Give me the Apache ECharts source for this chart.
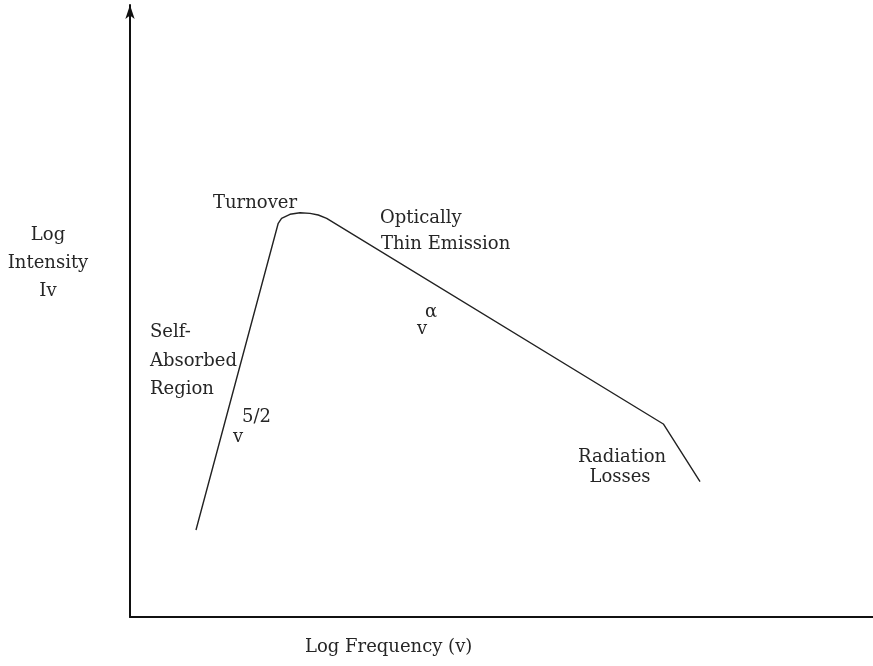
<!DOCTYPE html>
<html>
<head>
<meta charset="utf-8">
<script src="https://cdn.jsdelivr.net/npm/echarts@6/dist/echarts.min.js"></script>
<style>html,body{margin:0;padding:0;background:#fff;}#c{width:873px;height:666px;}</style>
</head>
<body>
<div id="c"></div>
<script>
// Spectrum shape (log frequency, log intensity), arbitrary units 0-100
const logFrequency = [8.88, 19.95, 20.40, 21.53, 22.88, 24.23, 25.34, 26.47, 71.78, 76.72];
const logIntensity = [14.22, 64.33, 65.15, 65.80, 66.06, 65.96, 65.69, 65.15, 31.54, 22.11];

const xAxisTitle = 'Log Frequency (v)';
const yAxisTitleLines = ['Log', 'Intensity', 'Iv'];
const annotations = [
  { text: 'Turnover', x: 213, y: 203, align: 'left' },
  { text: 'Optically', x: 380, y: 218, align: 'left' },
  { text: 'Thin Emission', x: 381, y: 244, align: 'left' },
  { text: 'Self-', x: 150, y: 332, align: 'left' },
  { text: 'Absorbed', x: 150, y: 361, align: 'left' },
  { text: 'Region', x: 150, y: 389, align: 'left' },
  { text: '5/2', x: 242, y: 417, align: 'left' },
  { text: 'v', x: 233, y: 437, align: 'left' },
  { text: '\u03b1', x: 425, y: 312, align: 'left' },
  { text: 'v', x: 417, y: 329, align: 'left' },
  { text: 'Radiation', x: 622, y: 457, align: 'center' },
  { text: 'Losses', x: 620, y: 477, align: 'center' }
];

const FONT = '"DejaVu Serif", "Liberation Serif", serif';
const TXT = '#262626';

const chart = echarts.init(document.getElementById('c'), null, { renderer: 'canvas' });

const graphics = [];
annotations.forEach(a => graphics.push({
  type: 'text', x: a.x, y: a.y,
  style: { text: a.text, font: '18px ' + FONT, fill: TXT, textAlign: a.align, textVerticalAlign: 'middle' }
}));
const yTitleY = [235, 263, 291];
yAxisTitleLines.forEach((t, i) => graphics.push({
  type: 'text', x: 48, y: yTitleY[i],
  style: { text: t, font: '18px ' + FONT, fill: TXT, textAlign: 'center', textVerticalAlign: 'middle' }
}));
graphics.push({
  type: 'text', x: 305, y: 647,
  style: { text: xAxisTitle, font: '18px ' + FONT, fill: TXT, textAlign: 'left', textVerticalAlign: 'middle' }
});

chart.setOption({
  animation: false,
  backgroundColor: '#fff',
  grid: { left: 130, right: 0, top: 5, bottom: 49, containLabel: false },
  xAxis: {
    type: 'value', min: 0, max: 100,
    axisLine: { show: true, onZero: false, lineStyle: { color: '#111', width: 2 } },
    axisTick: { show: false }, axisLabel: { show: false }, splitLine: { show: false }
  },
  yAxis: {
    type: 'value', min: 0, max: 100,
    axisLine: { show: true, onZero: false, symbol: ['none', 'arrow'], symbolSize: [7, 14], lineStyle: { color: '#111', width: 2 } },
    axisTick: { show: false }, axisLabel: { show: false }, splitLine: { show: false }
  },
  series: [{
    type: 'line',
    data: logFrequency.map((x, i) => [x, logIntensity[i]]),
    showSymbol: false,
    symbol: 'none',
    lineStyle: { color: '#222', width: 1.4 },
    silent: true
  }],
  graphic: graphics
});
</script>
</body>
</html>
